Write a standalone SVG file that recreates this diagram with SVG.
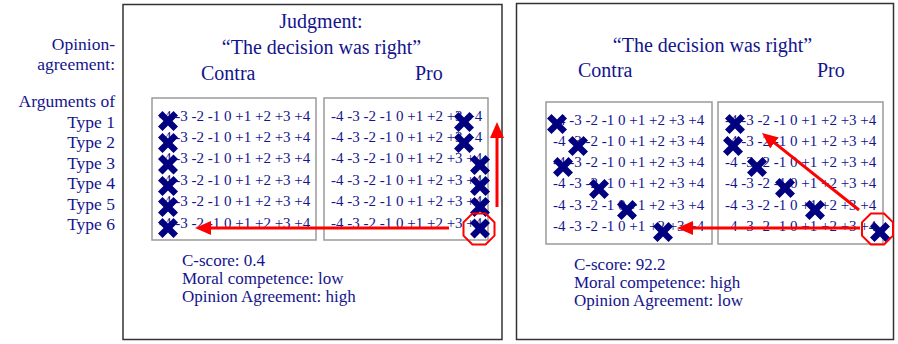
<svg xmlns="http://www.w3.org/2000/svg" xmlns:xlink="http://www.w3.org/1999/xlink" width="898" height="344" viewBox="0 0 898 344">
<style>
text{font-family:"Liberation Serif","Times New Roman",serif;fill:#14148c}
.lab{font-size:17.5px;text-anchor:end}
.ttl{font-size:20px}
.row{font-size:15px}
.info{font-size:17px}
.frame{fill:none;stroke:#333;stroke-width:1.5}
.box{fill:#fff;stroke:#9a9a9a;stroke-width:1.5}
.arr{stroke:#ff0000;stroke-width:3;fill:none}
.oct{stroke:#ff0000;stroke-width:2;fill:none}
</style>
<defs>
<path id="x" d="M-10,-5.5 L-5.5,-10 L0,-4.5 L5.5,-10 L10,-5.5 L4.5,0 L10,5.5 L5.5,10 L0,4.5 L-5.5,10 L-10,5.5 L-4.5,0 Z" fill="#000080"/>
<marker id="ah" markerUnits="userSpaceOnUse" markerWidth="16" markerHeight="14" refX="6" refY="7" orient="auto">
<path d="M0,0 L16,7 L0,14 Z" fill="#ff0000"/>
</marker>
</defs>
<rect width="898" height="344" fill="#fff"/>

<g id="side-labels">
<text class="lab" x="115" y="50">Opinion-</text>
<text class="lab" x="115" y="70">agreement:</text>
<text class="lab" x="115" y="107">Arguments of</text>
<text class="lab" x="115" y="127.5">Type 1</text>
<text class="lab" x="115" y="148">Type 2</text>
<text class="lab" x="115" y="168.5">Type 3</text>
<text class="lab" x="115" y="189">Type 4</text>
<text class="lab" x="115" y="209.5">Type 5</text>
<text class="lab" x="115" y="230">Type 6</text>
</g>

<g id="left-panel">
<rect class="frame" x="123" y="4.5" width="379" height="335"/>
<text class="ttl" x="321" y="28" text-anchor="middle">Judgment:</text>
<text class="ttl" x="321.5" y="54" text-anchor="middle">“The decision was right”</text>
<text class="ttl" x="201" y="80">Contra</text>
<text class="ttl" x="415" y="80">Pro</text>
<g id="left-contra">
<rect class="box" x="152" y="98" width="164" height="142"/>
<text class="row" x="159" y="120.5">-4 -3 -2 -1 0 +1 +2 +3 +4</text>
<text class="row" x="159" y="141.9">-4 -3 -2 -1 0 +1 +2 +3 +4</text>
<text class="row" x="159" y="163.3">-4 -3 -2 -1 0 +1 +2 +3 +4</text>
<text class="row" x="159" y="184.7">-4 -3 -2 -1 0 +1 +2 +3 +4</text>
<text class="row" x="159" y="206.1">-4 -3 -2 -1 0 +1 +2 +3 +4</text>
<text class="row" x="159" y="227.5">-4 -3 -2 -1 0 +1 +2 +3 +4</text>
<use xlink:href="#x" x="168" y="121"/>
<use xlink:href="#x" x="168" y="143"/>
<use xlink:href="#x" x="168" y="164.5"/>
<use xlink:href="#x" x="168" y="186"/>
<use xlink:href="#x" x="168" y="207"/>
<use xlink:href="#x" x="168" y="228"/>
</g>
<g id="left-pro">
<rect class="box" x="324" y="98" width="164" height="142"/>
<text class="row" x="331" y="120.5">-4 -3 -2 -1 0 +1 +2 +3 +4</text>
<text class="row" x="331" y="141.9">-4 -3 -2 -1 0 +1 +2 +3 +4</text>
<text class="row" x="331" y="163.3">-4 -3 -2 -1 0 +1 +2 +3 +4</text>
<text class="row" x="331" y="184.7">-4 -3 -2 -1 0 +1 +2 +3 +4</text>
<text class="row" x="331" y="206.1">-4 -3 -2 -1 0 +1 +2 +3 +4</text>
<text class="row" x="331" y="227.5">-4 -3 -2 -1 0 +1 +2 +3 +4</text>
<use xlink:href="#x" x="464" y="122"/>
<use xlink:href="#x" x="464" y="143"/>
<use xlink:href="#x" x="480" y="165"/>
<use xlink:href="#x" x="480" y="186"/>
<use xlink:href="#x" x="480" y="207"/>
<use xlink:href="#x" x="480" y="228.5"/>
</g>
<g id="left-info">
<text class="info" x="182" y="266">C-score: 0.4</text>
<text class="info" x="182" y="284">Moral competence: low</text>
<text class="info" x="182" y="302">Opinion Agreement: high</text>
</g>
</g>

<g id="right-panel">
<rect class="frame" x="516.5" y="3.5" width="377" height="336"/>
<text class="ttl" x="712.5" y="52" text-anchor="middle">“The decision was right”</text>
<text class="ttl" x="578" y="77">Contra</text>
<text class="ttl" x="817" y="77">Pro</text>
<g id="right-contra">
<rect class="box" x="546" y="102" width="166" height="142"/>
<text class="row" x="553" y="124.5">-4 -3 -2 -1 0 +1 +2 +3 +4</text>
<text class="row" x="553" y="145.8">-4 -3 -2 -1 0 +1 +2 +3 +4</text>
<text class="row" x="553" y="167.1">-4 -3 -2 -1 0 +1 +2 +3 +4</text>
<text class="row" x="553" y="188.4">-4 -3 -2 -1 0 +1 +2 +3 +4</text>
<text class="row" x="553" y="209.7">-4 -3 -2 -1 0 +1 +2 +3 +4</text>
<text class="row" x="553" y="231">-4 -3 -2 -1 0 +1 +2 +3 +4</text>
<use xlink:href="#x" x="557" y="124"/>
<use xlink:href="#x" x="578" y="146"/>
<use xlink:href="#x" x="563" y="167"/>
<use xlink:href="#x" x="599" y="189"/>
<use xlink:href="#x" x="627" y="210"/>
<use xlink:href="#x" x="663" y="232"/>
</g>
<g id="right-pro">
<rect class="box" x="718" y="102" width="165" height="142"/>
<text class="row" x="725" y="124.5">-4 -3 -2 -1 0 +1 +2 +3 +4</text>
<text class="row" x="725" y="145.8">-4 -3 -2 -1 0 +1 +2 +3 +4</text>
<text class="row" x="725" y="167.1">-4 -3 -2 -1 0 +1 +2 +3 +4</text>
<text class="row" x="725" y="188.4">-4 -3 -2 -1 0 +1 +2 +3 +4</text>
<text class="row" x="725" y="209.7">-4 -3 -2 -1 0 +1 +2 +3 +4</text>
<text class="row" x="725" y="231">-4 -3 -2 -1 0 +1 +2 +3 +4</text>
<use xlink:href="#x" x="735" y="124"/>
<use xlink:href="#x" x="733" y="146"/>
<use xlink:href="#x" x="757" y="167"/>
<use xlink:href="#x" x="785" y="188"/>
<use xlink:href="#x" x="815" y="210"/>
<use xlink:href="#x" x="880" y="232"/>
</g>
<g id="right-info">
<text class="info" x="574" y="270">C-score: 92.2</text>
<text class="info" x="574" y="288">Moral competence: high</text>
<text class="info" x="574" y="306">Opinion Agreement: low</text>
</g>
</g>

<g id="connectors">
<polygon class="oct" points="494.5,235.6 485.6,244.5 472.4,244.5 463.5,235.6 463.5,222.4 472.4,213.5 485.6,213.5 494.5,222.4"/>
<polygon class="oct" points="893,235.6 884.1,244.5 870.9,244.5 862,235.6 862,222.4 870.9,213.5 884.1,213.5 893,222.4"/>
<line class="arr" x1="497" y1="207" x2="497" y2="132" marker-end="url(#ah)"/>
<line class="arr" x1="449" y1="228" x2="205" y2="228" marker-end="url(#ah)"/>
<line class="arr" x1="860" y1="228" x2="687" y2="228" marker-end="url(#ah)"/>
<line class="arr" x1="859" y1="210" x2="769.8" y2="139.2" marker-end="url(#ah)"/>
</g>
</svg>
